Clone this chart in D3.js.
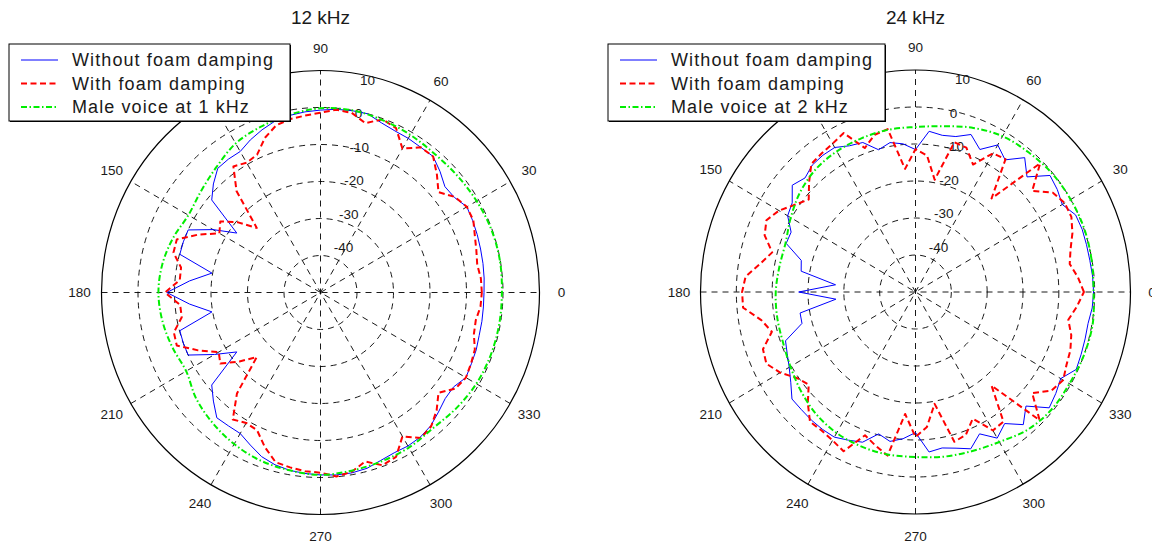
<!DOCTYPE html>
<html>
<head>
<meta charset="utf-8">
<script src="https://cdn.jsdelivr.net/npm/d3@7"></script>
<style>
  body { margin: 0; background: #fff; }
  svg { display: block; }
  text { font-family: Arial, "Liberation Sans", Helvetica, sans-serif; fill: #1a1a1a; }
</style>
</head>
<body>
<div id="chart"></div>
<script>
// angles in degrees (measured points every 5 deg, voice model every 10 deg)
const angles5 = [0,5,10,15,20,25,30,35,40,45,50,55,60,65,70,75,80,85,90,95,100,105,110,115,120,125,130,135,140,145,150,155,160,165,170,175,
  180,185,190,195,200,205,210,215,220,225,230,235,240,245,250,255,260,265,270,275,280,285,290,295,300,305,310,315,320,325,330,335,340,345,350,355];
const angles10 = [0,10,20,30,40,50,60,70,80,90,100,110,120,130,140,150,160,170,180,190,200,210,220,230,240,250,260,270,280,290,300,310,320,330,340,350];

const ringTicks = [-40, -30, -20, -10, 0, 10];
const spokeAngles = [0, 30, 60, 90, 120, 150, 180, 210, 240, 270, 300, 330];

// 12 kHz panel (dB)
const noFoam12 = [-5.2,-5.0,-4.8,-4.6,-4.3,-4.0,-3.7,-5.2,-5.5,-3.7,-2.0,-2.1,-1.9,-1.8,-1.2,0.0,-0.1,-0.3,-0.7,-1.0,-1.4,-2.0,-3.2,-4.5,-6.0,-6.0,-6.2,-8.5,-11.1,-22.0,-16.0,-10.0,-10.0,-10.1,-19.8,-14.0,
  -7.9,-14.0,-19.8,-10.1,-10.0,-10.0,-16.5,-22.0,-11.1,-8.5,-5.8,-6.0,-6.0,-4.5,-2.8,-1.8,-1.2,-0.9,-0.7,-0.5,-0.5,-0.8,-1.7,-2.2,-2.1,-2.3,-3.0,-4.3,-5.4,-5.5,-4.0,-4.4,-4.6,-5.0,-5.1,-5.2];
const foam12 = [-5.8,-5.9,-6.4,-5.8,-5.0,-3.8,-3.7,-5.0,-7.8,-4.9,-2.0,-2.1,-5.1,-1.0,-0.2,-2.6,-0.7,-0.4,-1.4,-2.0,-2.4,-3.2,-5.5,-8.9,-9.5,-8.4,-14.2,-25.3,-20.5,-16.5,-18.0,-13.0,-8.1,-8.3,-11.2,-11.3,
  -7.4,-11.4,-11.4,-8.4,-8.1,-13.0,-17.8,-16.5,-21.0,-25.3,-14.4,-8.1,-9.3,-8.9,-5.5,-2.5,-2.0,-1.5,-1.3,-0.1,-0.8,-2.7,-0.3,-1.0,-5.1,-2.0,-2.8,-5.0,-7.8,-4.8,-4.0,-4.5,-5.0,-6.5,-6.8,-6.0];
const voice1k = [-0.3,-0.1,-0.2,-0.6,-1.0,-1.2,-0.8,-0.4,0.0,-0.2,-1.2,-2.3,-3.5,-5.7,-7.3,-8.2,-7.0,-6.0,
  -5.6,-6.0,-6.8,-7.5,-5.5,-4.0,-2.7,-1.7,-1.2,-0.7,-1.1,-1.4,-1.6,-2.1,-1.4,-0.7,-0.4,-0.3];

// 24 kHz panel (dB)
const noFoam24 = [-0.3,-0.4,-0.6,-0.6,-0.5,-0.7,-2.7,-1.7,-1.0,-6.0,-2.6,-6.4,-4.1,-7.5,-4.7,-6.5,-7.0,-6.4,-11.5,-9.8,-9.0,-10.2,-7.0,-6.4,-4.9,-4.9,-5.2,-6.4,-5.1,-8.0,-8.8,-11.7,-11.6,-17.0,-17.6,-27.6,
  -17.4,-27.7,-17.3,-17.2,-11.4,-10.5,-9.3,-7.5,-5.0,-5.0,-4.8,-4.7,-4.7,-5.8,-6.8,-10.3,-9.0,-10.2,-12.0,-6.6,-7.2,-6.3,-4.9,-7.7,-4.4,-6.6,-3.2,-6.4,-1.3,-2.2,-3.2,-0.5,-0.8,-1.0,-1.1,-0.5];
const foam24 = [-3.0,-4.5,-6.3,-5.2,-3.4,-2.0,-1.9,-3.2,-7.5,-0.8,-17.0,-6.2,-6.7,-12.0,-8.5,-8.1,-19.2,-13.0,-11.4,-16.6,-5.3,-6.0,-8.6,-2.6,-3.7,-4.3,-4.8,-8.0,-11.1,-8.9,-6.0,-4.1,-5.2,-8.6,-6.0,-2.4,
  -1.6,-1.7,-6.3,-8.5,-4.7,-4.1,-6.4,-9.5,-11.1,-7.5,-4.2,-4.3,-3.7,-2.5,-8.8,-7.0,-5.1,-16.9,-10.8,-13.4,-19.3,-8.1,-8.9,-12.2,-6.8,-7.2,-17.0,-1.0,-7.5,-3.6,-2.4,-3.5,-4.0,-5.0,-6.7,-4.8];
const voice2k = [-0.3,-0.1,0.1,0.0,-0.2,-0.8,-1.4,-2.8,-4.5,-5.4,-5.5,-5.8,-6.1,-6.7,-8.0,-9.8,-11.4,-11.4,
  -11.0,-10.8,-10.6,-9.7,-8.3,-6.9,-6.0,-5.6,-5.4,-5.4,-4.8,-4.2,-3.2,-1.4,-0.5,-0.4,0.0,0.2];

const titles = ["12 kHz", "24 kHz"];
const legendLabels = [
  ["Without foam damping", "With foam damping", "Male voice at 1 kHz"],
  ["Without foam damping", "With foam damping", "Male voice at 2 kHz"]
];

const W = 1152, H = 547;
const svg = d3.select("#chart").append("svg").attr("width", W).attr("height", H);

const styles = [
  { color: "#0000ff", width: 1, dash: null },
  { color: "#ff0000", width: 2, dash: "6,3.5" },
  { color: "#00ee00", width: 2, dash: "6,2.5,1.5,2.5" }
];

const panels = [
  { cx: 320.5, cy: 292.5, rx: 219, ry: 222, legendX: 9, title: titles[0], labels: legendLabels[0],
    series: [{ a: angles5, v: noFoam12 }, { a: angles5, v: foam12 }, { a: angles10, v: voice1k, smooth: true }] },
  { cx: 915.5, cy: 292, rx: 215, ry: 222, legendX: 608, title: titles[1], labels: legendLabels[1],
    series: [{ a: angles5, v: noFoam24 }, { a: angles5, v: foam24 }, { a: angles10, v: voice2k, smooth: true }] }
];

const rScale = d3.scaleLinear().domain([-50, 10]).range([0, 1]);
const rad = d => d * Math.PI / 180;

panels.forEach(p => {
  const g = svg.append("g");
  const px = (deg, db) => p.cx + p.rx * rScale(db) * Math.cos(rad(deg));
  const py = (deg, db) => p.cy - p.ry * rScale(db) * Math.sin(rad(deg));

  // rings
  ringTicks.forEach(t => {
    const outer = t === d3.max(ringTicks);
    g.append("ellipse")
      .attr("cx", p.cx).attr("cy", p.cy)
      .attr("rx", p.rx * rScale(t)).attr("ry", p.ry * rScale(t))
      .attr("fill", "none").attr("stroke", "#000")
      .attr("stroke-width", outer ? 1.2 : 0.9)
      .attr("stroke-dasharray", outer ? null : "6,5");
  });

  // spokes (full diameters)
  spokeAngles.filter(a => a < 180).forEach(a => {
    const top = d3.max(ringTicks);
    g.append("line")
      .attr("x1", px(a + 180, top)).attr("y1", py(a + 180, top))
      .attr("x2", px(a, top)).attr("y2", py(a, top))
      .attr("stroke", "#000").attr("stroke-width", 0.9)
      .attr("stroke-dasharray", "6,5");
  });

  // angle labels
  spokeAngles.forEach(a => {
    g.append("text")
      .attr("x", p.cx + 1.1 * p.rx * Math.cos(rad(a)))
      .attr("y", p.cy - 1.1 * p.ry * Math.sin(rad(a)))
      .attr("text-anchor", "middle").attr("dominant-baseline", "central")
      .attr("font-size", 13.5).text(a);
  });

  // ring labels (left-aligned, near 82 deg)
  ringTicks.forEach(t => {
    const R = p.ry * rScale(t);
    g.append("text")
      .attr("x", p.cx + 8 + 0.142 * R)
      .attr("y", p.cy - (0.905 * R + 11.5))
      .attr("dominant-baseline", "central")
      .attr("font-size", 13.5).text(t);
  });

  // data lines
  p.series.forEach((s, i) => {
    const pts = s.a.map((a, k) => [px(a, s.v[k]), py(a, s.v[k])]);
    const line = d3.line().curve(s.smooth ? d3.curveCatmullRomClosed : d3.curveLinearClosed);
    g.append("path")
      .attr("d", line(pts))
      .attr("fill", "none")
      .attr("stroke", styles[i].color)
      .attr("stroke-width", styles[i].width)
      .attr("stroke-dasharray", styles[i].dash)
      .attr("stroke-linejoin", "round");
  });

  // title
  svg.append("text")
    .attr("x", p.cx).attr("y", 17)
    .attr("text-anchor", "middle").attr("dominant-baseline", "central")
    .attr("font-size", 19).text(p.title);

  // legend
  const lg = svg.append("g").attr("transform", `translate(${p.legendX},44)`);
  const lw = p.legendX < 100 ? 281 : 277;
  lg.append("rect").attr("x", 1).attr("y", 1).attr("width", lw).attr("height", 77).attr("fill", "#000");
  lg.append("rect").attr("x", 0).attr("y", 0).attr("width", lw).attr("height", 77)
    .attr("fill", "#fff").attr("stroke", "#000").attr("stroke-width", 1);
  p.labels.forEach((lab, i) => {
    const y = 16 + i * 23.5;
    lg.append("line").attr("x1", 12).attr("x2", 49).attr("y1", y).attr("y2", y)
      .attr("stroke", styles[i].color).attr("stroke-width", styles[i].width)
      .attr("stroke-dasharray", styles[i].dash);
    lg.append("text").attr("x", 63).attr("y", y)
      .attr("dominant-baseline", "central").attr("font-size", 18)
      .attr("letter-spacing", 1.1).text(lab);
  });
});
</script>
</body>
</html>
